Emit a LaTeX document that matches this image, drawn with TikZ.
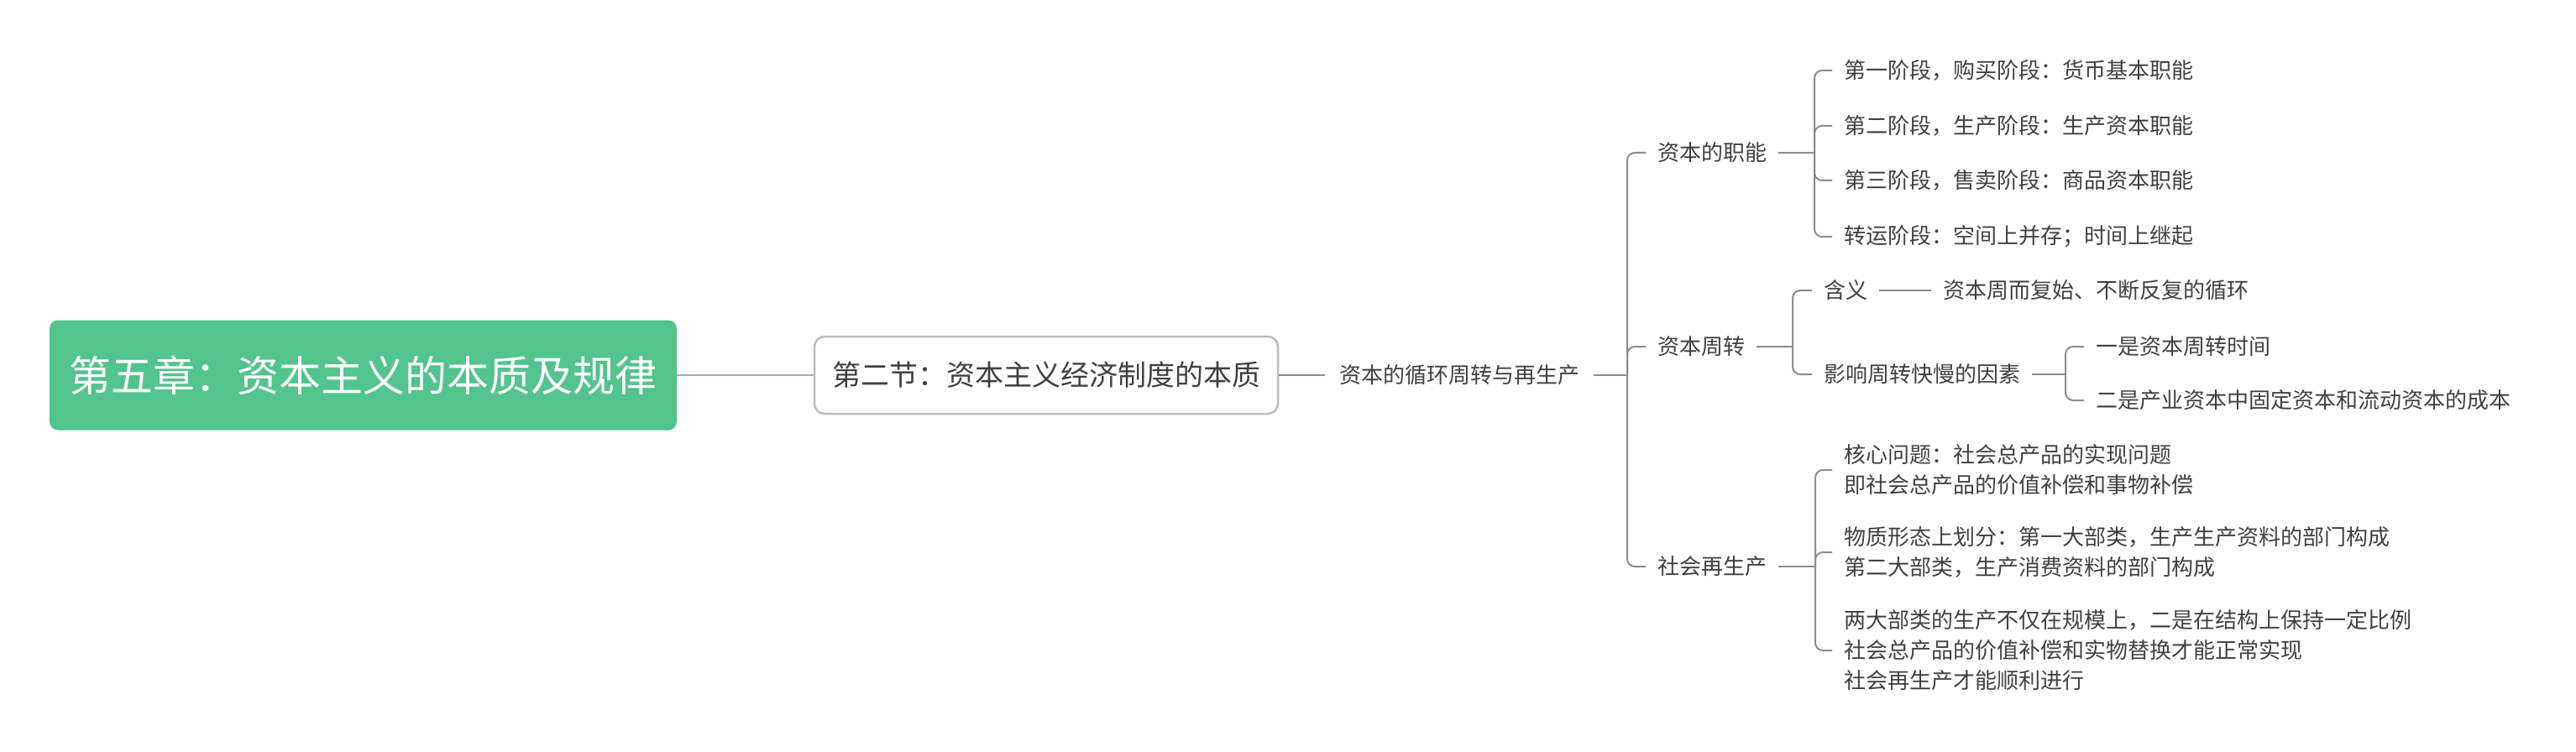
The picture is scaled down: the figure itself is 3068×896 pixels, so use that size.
\documentclass[tikz,border=0pt]{standalone}
\usepackage{fontspec}
\setmainfont{Noto Sans CJK SC}
\definecolor{rootgreen}{RGB}{82,196,140}
\definecolor{tx}{RGB}{64,64,64}
\definecolor{ln}{RGB}{140,140,140}
\definecolor{lnlight}{RGB}{170,170,170}
\definecolor{secborder}{RGB}{190,190,190}
\begin{document}
\begin{tikzpicture}[x=1pt,y=-1pt,
  txt/.style={font=\fontsize{26}{36}\selectfont, text=tx, inner xsep=14pt, inner ysep=2pt, anchor=west, align=left},
  conn/.style={draw=ln, line width=2pt, rounded corners=9pt},
  rootbox/.style={fill=rootgreen, rounded corners=10pt, minimum width=747pt, minimum height=131pt, text=white, font=\fontsize{50}{60}\selectfont},
  secbox/.style={draw=secborder, line width=2.5pt, fill=white, rounded corners=12pt, minimum width=552pt, minimum height=92pt, text=tx, font=\fontsize{34}{40}\selectfont}]
\useasboundingbox (0,0) rectangle (3068,896);

% main nodes
\node[rootbox] (root) at (432.5,447) {第五章：资本主义的本质及规律};
\node[secbox] (sec) at (1246,447) {第二节：资本主义经济制度的本质};
\node[txt, inner xsep=17pt] (cyc) at (1578,447) {资本的循环周转与再生产};

\draw[draw=lnlight, line width=2.5pt] (root.east) -- (root.east -| sec.west);
\draw[draw=ln, line width=2.5pt] (sec.east) -- (sec.east -| cyc.west);

% level 2
\coordinate (J1) at (1938,447);
\node[txt] (f1) at (1960,182) {资本的职能};
\node[txt] (f2) at (1960,413) {资本周转};
\node[txt] (f3) at (1960,675) {社会再生产};
\draw[conn] (cyc.east) -- (J1);
\draw[conn] (J1) |- (f1.west);
\draw[conn] (J1) |- (f2.west);
\draw[conn] (J1) |- (f3.west);

% 资本的职能
\coordinate (J2) at (2161,182);
\node[txt] (a1) at (2182,84) {第一阶段，购买阶段：货币基本职能};
\node[txt] (a2) at (2182,150) {第二阶段，生产阶段：生产资本职能};
\node[txt] (a3) at (2182,215) {第三阶段，售卖阶段：商品资本职能};
\node[txt] (a4) at (2182,282) {转运阶段：空间上并存；时间上继起};
\draw[conn] (f1.east) -- (J2);
\draw[conn] (J2) |- (a1.west);
\draw[conn] (J2) |- (a2.west);
\draw[conn] (J2) |- (a3.west);
\draw[conn] (J2) |- (a4.west);

% 资本周转
\coordinate (J3) at (2135,413);
\node[txt] (b1) at (2158,346) {含义};
\node[txt] (b1d) at (2300,346) {资本周而复始、不断反复的循环};
\node[txt] (b2) at (2158,446) {影响周转快慢的因素};
\draw[conn] (f2.east) -- (J3);
\draw[conn] (J3) |- (b1.west);
\draw[conn] (J3) |- (b2.west);
\draw[conn] (b1.east) -- (b1d.west);

\coordinate (J4) at (2460,446);
\node[txt] (c1) at (2482,413) {一是资本周转时间};
\node[txt] (c2) at (2482,477) {二是产业资本中固定资本和流动资本的成本};
\draw[conn] (b2.east) -- (J4);
\draw[conn] (J4) |- (c1.west);
\draw[conn] (J4) |- (c2.west);

% 社会再生产
\coordinate (J5) at (2162,675);
\node[txt] (d1) at (2182,560) {核心问题：社会总产品的实现问题\\即社会总产品的价值补偿和事物补偿};
\node[txt] (d2) at (2182,658) {物质形态上划分：第一大部类，生产生产资料的部门构成\\第二大部类，生产消费资料的部门构成};
\node[txt] (d3) at (2182,775) {两大部类的生产不仅在规模上，二是在结构上保持一定比例\\社会总产品的价值补偿和实物替换才能正常实现\\社会再生产才能顺利进行};
\draw[conn] (f3.east) -- (J5);
\draw[conn] (J5) |- (d1.west);
\draw[conn] (J5) |- (d2.west);
\draw[conn] (J5) |- (d3.west);
\end{tikzpicture}
\end{document}
